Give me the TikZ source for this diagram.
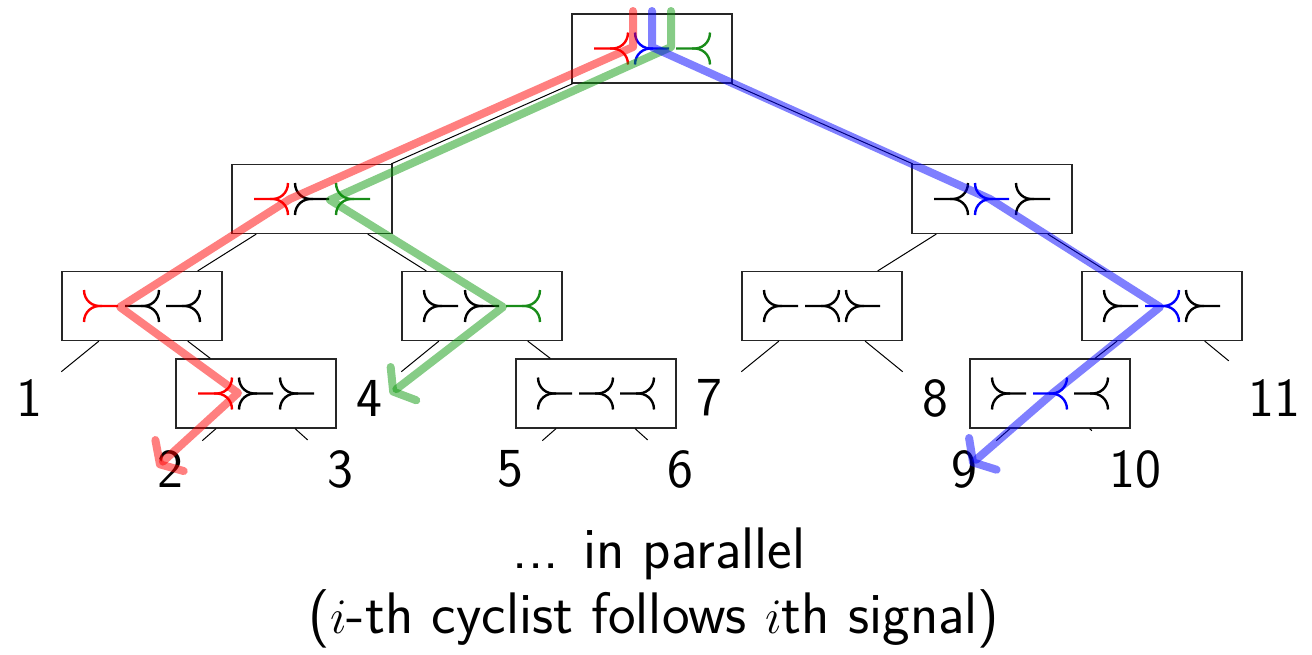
\documentclass[tikz,border=0pt]{standalone}
\usetikzlibrary{calc,arrows.meta}
\definecolor{sgreen}{rgb}{0.1,0.55,0.1}
\definecolor{bgreen}{rgb}{0.05,0.6,0.05}
\tikzset{
  box/.style={draw=black!85, line width=0.6pt, rectangle, minimum width=80pt, minimum height=34.5pt, inner sep=0pt},
  leaf/.style={font=\fontsize{27.5}{33}\selectfont\sffamily, inner sep=9.5pt},
  caption/.style={font=\fontsize{29.3}{35}\selectfont\sffamily, anchor=base, inner sep=0pt},
  edge/.style={line width=0.5pt, black},
  symline/.style={line width=1.2pt},
  band/.style={line width=4pt, draw opacity=0.5, line cap=round, line join=round},
  tipped/.style={-{Straight Barb[length=6.5pt,width=21pt,round]}},
  pics/symM/.style={code={
     \draw[symline] (-17,-16) .. controls (-17,-6) and (-9,1) .. (1,0) -- (17,0);
     \draw[symline] (-17,16) .. controls (-17,6) and (-9,-1) .. (1,0);}},
  pics/symS/.style={code={
     \draw[symline] (17,-16) .. controls (17,-6) and (9,1) .. (-1,0) -- (-17,0);
     \draw[symline] (17,16) .. controls (17,6) and (9,-1) .. (-1,0);}},
}
\newcommand\trio[7]{%
  \pic[#3] at ($(#1)+(-41,0)$) {#2};
  \pic[#5] at ($(#1)+(0,0)$) {#4};
  \pic[#7] at ($(#1)+(41,0)$) {#6};
}
\begin{document}
\begin{tikzpicture}[x=0.5pt,y=-0.5pt]
\useasboundingbox (0,0) rectangle (1312,654);
% boxes
\node[box] (root) at (652,48.5) {};
\node[box] (L1a) at (312,199) {};
\node[box] (L1b) at (992,199) {};
\node[box] (L2a) at (142,306) {};
\node[box] (L2b) at (482,306) {};
\node[box] (L2c) at (822,306) {};
\node[box] (L2d) at (1162,306) {};
\node[box] (L3a) at (256,393.5) {};
\node[box] (L3b) at (596,393.5) {};
\node[box] (L3c) at (1050,393.5) {};
% leaves
\node[leaf] (n1) at (29,398) {1};
\node[leaf] (n4) at (369,398) {4};
\node[leaf] (n7) at (709,398) {7};
\node[leaf] (n8) at (935,398) {8};
\node[leaf] (n11) at (1274,398) {11};
\node[leaf] (n2) at (170,469) {2};
\node[leaf] (n3) at (340,469) {3};
\node[leaf] (n5) at (510,469) {5};
\node[leaf] (n6) at (680,469) {6};
\node[leaf] (n9) at (964,469) {9};
\node[leaf] (n10) at (1135,469) {10};
% tree edges
\draw[edge] (root) -- (L1a);
\draw[edge] (root) -- (L1b);
\draw[edge] (L1a) -- (L2a);
\draw[edge] (L1a) -- (L2b);
\draw[edge] (L1b) -- (L2c);
\draw[edge] (L1b) -- (L2d);
\draw[edge] (L2a) -- (n1);
\draw[edge] (L2a) -- (L3a);
\draw[edge] (L2b) -- (n4);
\draw[edge] (L2b) -- (L3b);
\draw[edge] (L2c) -- (n7);
\draw[edge] (L2c) -- (n8);
\draw[edge] (L2d) -- (L3c);
\draw[edge] (L2d) -- (n11);
\draw[edge] (L3a) -- (n2);
\draw[edge] (L3a) -- (n3);
\draw[edge] (L3b) -- (n5);
\draw[edge] (L3b) -- (n6);
\draw[edge] (L3c) -- (n9);
\draw[edge] (L3c) -- (n10);
% switch symbols
\trio{root}{symS}{red}{symM}{blue}{symS}{sgreen}
\trio{L1a}{symS}{red}{symM}{black}{symM}{sgreen}
\trio{L1b}{symS}{black}{symM}{blue}{symM}{black}
\trio{L2a}{symM}{red}{symS}{black}{symS}{black}
\trio{L2b}{symM}{black}{symM}{black}{symS}{sgreen}
\trio{L2c}{symM}{black}{symS}{black}{symM}{black}
\trio{L2d}{symM}{black}{symS}{blue}{symM}{black}
\trio{L3a}{symS}{red}{symM}{black}{symM}{black}
\trio{L3b}{symM}{black}{symS}{black}{symS}{black}
\trio{L3c}{symM}{black}{symS}{blue}{symS}{black}
% cyclist paths
\coordinate (r0) at (633,11);
\coordinate (r1) at (633,47);
\coordinate (r2) at (290,199);
\coordinate (r3) at (120,307);
\coordinate (r4) at (238,393);
\coordinate (r5) at (157,467);
\coordinate (g0) at (671,11);
\coordinate (g1) at (671,47);
\coordinate (g2) at (330,200);
\coordinate (g3) at (503,307);
\coordinate (g4) at (390,394);
\coordinate (b0) at (652,11);
\coordinate (b1) at (652,47);
\coordinate (b2) at (990,199);
\coordinate (b3) at (1160,307);
\coordinate (b4) at (1053,393);
\coordinate (b5) at (970,465);
\draw[band,red,tipped] (r0) -- (r1) -- (r2) -- (r3) -- (r4) -- (r5);
\draw[band,bgreen,tipped] (g0) -- (g1) -- (g2) -- (g3) -- (g4);
\draw[band,blue,tipped] (b0) -- (b1) -- (b2) -- (b3) -- (b4) -- (b5);
% captions
\node[caption] (c1) at (659,568) {... in parallel};
\node[caption] (c2) at (654,633) {($i$-th cyclist follows $i$th signal)};
\end{tikzpicture}
\end{document}
